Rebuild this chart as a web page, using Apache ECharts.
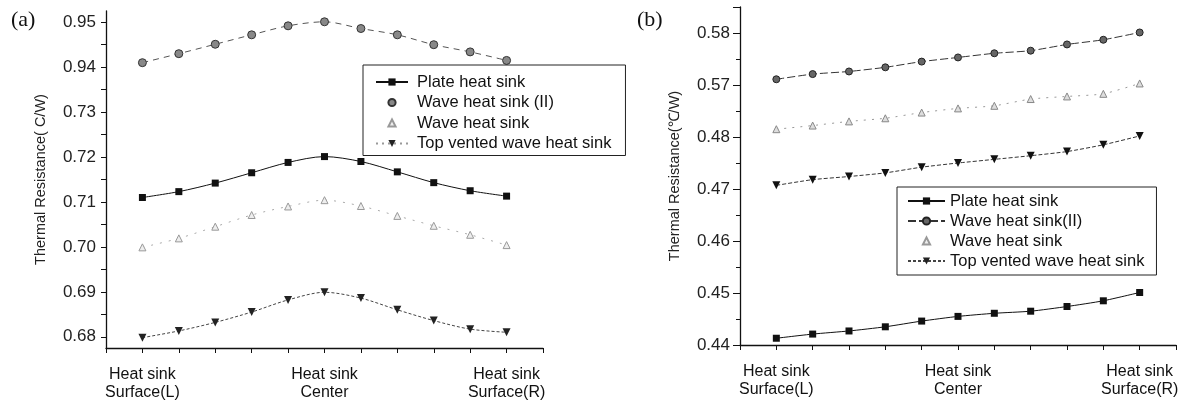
<!DOCTYPE html>
<html>
<head>
    <meta charset="utf-8">
    <title>Thermal Resistance</title>
    <script src="https://cdn.jsdelivr.net/npm/echarts@6/dist/echarts.min.js"></script>
</head>
<body style="margin:0;background:#fff">
<div id="main" style="width:1186px;height:408px"></div>
<script type="text/javascript">
    // tick labels (broken axes, evenly spaced)
    var yTicksA = ['0.68', '0.69', '0.70', '0.71', '0.72', '0.73', '0.94', '0.95'];
    var yTicksB = ['0.44', '0.45', '0.46', '0.47', '0.48', '0.57', '0.58'];
    var xTickPos = [0, 5, 10];
    var xTickText = ['Heat sink\nSurface(L)', 'Heat sink\nCenter', 'Heat sink\nSurface(R)'];

    // (a)
    var plateA = [0.7110, 0.7123, 0.7142, 0.7165, 0.7188, 0.7201, 0.7190, 0.7167, 0.7143, 0.7125, 0.7113];
    var waveIIA = [0.9410, 0.9430, 0.9451, 0.9472, 0.9492, 0.9501, 0.9486, 0.9472, 0.9450, 0.9434, 0.9415];
    var waveA = [0.6999, 0.7019, 0.7045, 0.7071, 0.7090, 0.7104, 0.7091, 0.7069, 0.7047, 0.7027, 0.7004];
    var topA = [0.6798, 0.6813, 0.6832, 0.6855, 0.6882, 0.6899, 0.6886, 0.6860, 0.6836, 0.6817, 0.6810];

    // (b)
    var plateB = [0.4413, 0.4421, 0.4427, 0.4435, 0.4446, 0.4455, 0.4461, 0.4465, 0.4474, 0.4485, 0.4501];
    var waveIIB = [0.5711, 0.5721, 0.5726, 0.5734, 0.5745, 0.5753, 0.5761, 0.5766, 0.5778, 0.5787, 0.5801];
    var waveB = [0.4815, 0.4822, 0.4830, 0.4836, 0.4847, 0.4855, 0.4860, 0.4873, 0.4878, 0.4883, 0.4903];
    var topB = [0.4707, 0.4718, 0.4724, 0.4731, 0.4742, 0.4750, 0.4757, 0.4764, 0.4772, 0.4785, 0.4802];

    // value -> position on the broken axis (one tick per step)
    function posA(v) {
        return v < 0.8 ? (v - 0.68) / 0.01 : 6 + (v - 0.94) / 0.01;
    }
    function posB(v) {
        return v < 0.5 ? (v - 0.44) / 0.01 : 5 + (v - 0.57) / 0.01;
    }
    function pts(arr, f) {
        return arr.map(function (v, i) { return [i, f(v)]; });
    }
    function range(n, start, step) {
        var out = [];
        for (var i = 0; i < n; i++) out.push(start + i * (step || 1));
        return out;
    }

    var sans = 'Liberation Sans, Arial, sans-serif';

    function xAxisOf(idx) {
        return {
            type: 'value', gridIndex: idx, min: -1, max: 11, interval: 1,
            splitLine: {show: false},
            axisLine: {onZero: false, lineStyle: {color: '#111', width: 1.3}},
            axisTick: {inside: false, length: 5, lineStyle: {color: '#111'}},
            axisLabel: {
                margin: 18, color: '#111', fontFamily: sans, fontSize: 16, lineHeight: 18,
                formatter: function (v) {
                    var k = xTickPos.indexOf(v);
                    return k >= 0 ? xTickText[k] : '';
                }
            }
        };
    }

    // (a): axis starts below the first label, so labels are placed by value
    function yAxisA(ticks, name) {
        var vals = range(ticks.length * 2 - 1, 0, 0.5);
        return {
            type: 'value', gridIndex: 0, min: -0.25, max: 7.25,
            splitLine: {show: false},
            name: name, nameLocation: 'middle', nameGap: 58,
            nameTextStyle: {fontFamily: sans, fontSize: 14.5, color: '#222'},
            axisLine: {onZero: false, lineStyle: {color: '#111', width: 1.3}},
            axisTick: {length: 5, customValues: vals, lineStyle: {color: '#111'}},
            axisLabel: {
                margin: 10, color: '#222', fontFamily: sans, fontSize: 17,
                customValues: vals, hideOverlap: false,
                formatter: function (v) {
                    return v % 1 === 0 ? ticks[v] : '';
                }
            }
        };
    }

    // (b): axis starts at the first label, whole steps + half-step minor ticks
    function yAxisB(ticks, name) {
        return {
            type: 'value', gridIndex: 1, min: 0, max: 6.5, interval: 1,
            splitLine: {show: false},
            name: name, nameLocation: 'middle', nameGap: 58,
            nameTextStyle: {fontFamily: sans, fontSize: 14.5, color: '#222'},
            axisLine: {onZero: false, lineStyle: {color: '#111', width: 1.3}},
            axisTick: {length: 7, lineStyle: {color: '#111'}},
            minorTick: {show: true, splitNumber: 2, length: 4, lineStyle: {color: '#111'}},
            minorSplitLine: {show: false},
            axisLabel: {
                margin: 10, color: '#222', fontFamily: sans, fontSize: 17,
                formatter: function (v) {
                    return v % 1 === 0 ? (ticks[v] || '') : '';
                }
            }
        };
    }

    var myChart = echarts.init(document.getElementById('main'), null, {renderer: 'canvas'});

    var option = {
        animation: false,
        title: [
            {text: '(a)', left: 6, top: 4, textStyle: {fontFamily: 'Liberation Serif, serif', fontSize: 22, fontWeight: 'normal', color: '#111'}},
            {text: '(b)', left: 632, top: 4, textStyle: {fontFamily: 'Liberation Serif, serif', fontSize: 22, fontWeight: 'normal', color: '#111'}}
        ],
        grid: [
            {left: 106, right: 643, top: 11, bottom: 60},
            {left: 740, right: 10, top: 7, bottom: 63}
        ],
        xAxis: [xAxisOf(0), xAxisOf(1)],
        yAxis: [
            yAxisA(yTicksA, 'Thermal Resistance( C/W)'),
            yAxisB(yTicksB, 'Thermal Resistance(℃/W)')
        ],
        legend: [
            {
                orient: 'vertical', left: 363, top: 65,
                padding: [8, 14, 3, 12], itemGap: 2.5, itemWidth: 32, itemHeight: 9,
                borderColor: '#222', borderWidth: 1,
                textStyle: {fontFamily: sans, fontSize: 16.5, color: '#111', lineHeight: 18, padding: [0, 0, 0, 4]},
                data: ['Plate heat sink',
                    {name: 'Wave heat sink (II)', lineStyle: {opacity: 0}},
                    {name: 'Wave heat sink', lineStyle: {opacity: 0}},
                    {name: 'Top vented wave heat sink', lineStyle: {color: '#999', type: [2, 4]}}]
            },
            {
                orient: 'vertical', left: 897, top: 187,
                padding: [5, 12, 5, 10], itemGap: 2, itemWidth: 37, itemHeight: 9,
                borderColor: '#222', borderWidth: 1,
                textStyle: {fontFamily: sans, fontSize: 16.5, color: '#111', lineHeight: 18},
                data: ['Plate heat sink', 'Wave heat sink(II)',
                    {name: 'Wave heat sink', lineStyle: {opacity: 0}}, 'Top vented wave heat sink']
            }
        ],
        series: [
            {
                name: 'Plate heat sink', type: 'line', xAxisIndex: 0, yAxisIndex: 0, smooth: 0.3,
                data: pts(plateA, posA), symbol: 'rect', symbolSize: 7,
                itemStyle: {color: '#111'}, lineStyle: {color: '#111', width: 1}
            },
            {
                name: 'Wave heat sink (II)', type: 'line', xAxisIndex: 0, yAxisIndex: 0, smooth: 0.3,
                data: pts(waveIIA, posA), symbol: 'circle', symbolSize: 8,
                itemStyle: {color: '#888', borderColor: '#333', borderWidth: 1},
                lineStyle: {color: '#555', width: 1, type: [6, 5]}
            },
            {
                name: 'Wave heat sink', type: 'line', xAxisIndex: 0, yAxisIndex: 0, smooth: 0.3,
                data: pts(waveA, posA), symbol: 'triangle', symbolSize: 7,
                itemStyle: {color: '#eee', borderColor: '#999', borderWidth: 1},
                lineStyle: {color: '#aaa', width: 1, type: [2, 7]}
            },
            {
                name: 'Top vented wave heat sink', type: 'line', xAxisIndex: 0, yAxisIndex: 0, smooth: 0.3,
                data: pts(topA, posA), symbol: 'triangle', symbolRotate: 180, symbolSize: 8,
                itemStyle: {color: '#222'}, lineStyle: {color: '#444', width: 1, type: [3, 2]}
            },
            {
                name: 'Plate heat sink', type: 'line', xAxisIndex: 1, yAxisIndex: 1, smooth: 0.2,
                data: pts(plateB, posB), symbol: 'rect', symbolSize: 7,
                itemStyle: {color: '#111'}, lineStyle: {color: '#111', width: 1}
            },
            {
                name: 'Wave heat sink(II)', type: 'line', xAxisIndex: 1, yAxisIndex: 1, smooth: 0.2,
                data: pts(waveIIB, posB), symbol: 'circle', symbolSize: 7,
                itemStyle: {color: '#666', borderColor: '#222', borderWidth: 1},
                lineStyle: {color: '#333', width: 1, type: [8, 3]}
            },
            {
                name: 'Wave heat sink', type: 'line', xAxisIndex: 1, yAxisIndex: 1, smooth: 0.2,
                data: pts(waveB, posB), symbol: 'triangle', symbolSize: 7,
                itemStyle: {color: '#ddd', borderColor: '#888', borderWidth: 1},
                lineStyle: {color: '#999', width: 1, type: [2, 6]}
            },
            {
                name: 'Top vented wave heat sink', type: 'line', xAxisIndex: 1, yAxisIndex: 1, smooth: 0.2,
                data: pts(topB, posB), symbol: 'triangle', symbolRotate: 180, symbolSize: 8,
                itemStyle: {color: '#111'}, lineStyle: {color: '#333', width: 1, type: [4, 2]}
            }
        ]
    };

    myChart.setOption(option);
    window.addEventListener('resize', myChart.resize);
</script>
</body>
</html>
